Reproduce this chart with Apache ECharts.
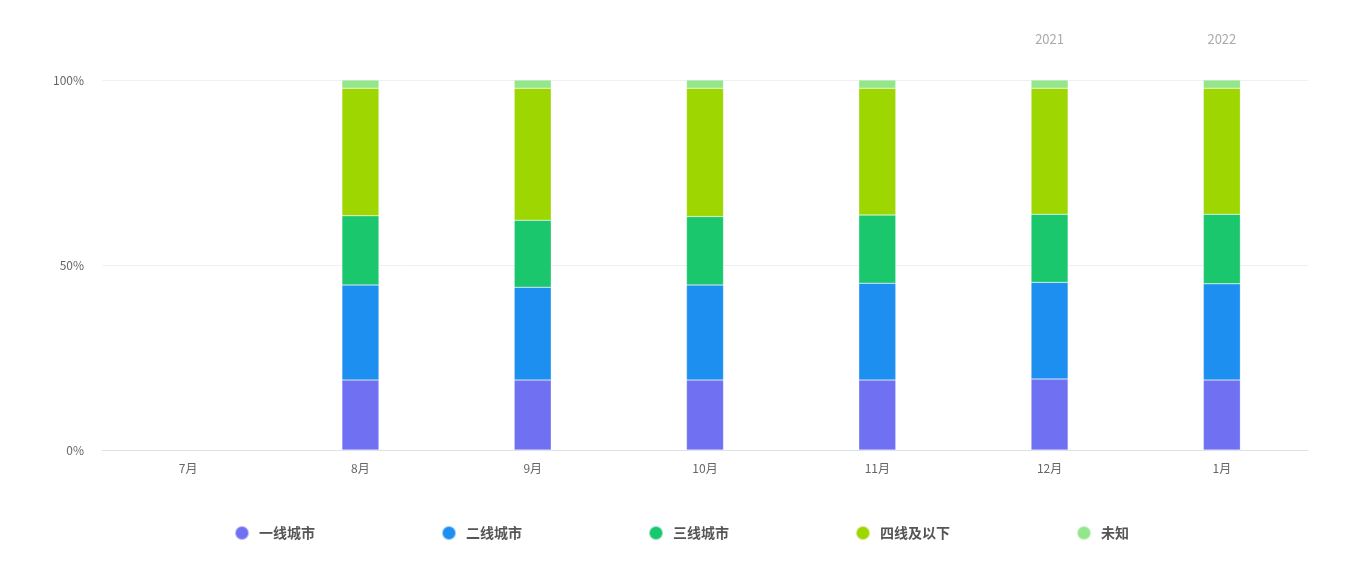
<!DOCTYPE html>
<html>
<head>
<meta charset="utf-8">
<title>城市分布</title>
<script src="https://cdn.jsdelivr.net/npm/echarts@6/dist/echarts.min.js"></script>
<style>
    html, body { margin: 0; padding: 0; background: #fff; }
    #barChart { width: 1363px; height: 588px; }
</style>
</head>
<body>
<div id="barChart"></div>
<script>
// 月份
var monthArray = ['7月', '8月', '9月', '10月', '11月', '12月', '1月'];
// 顶部年份标签
var yearArray = ['', '', '', '', '', '2021', '2022'];
// 各城市级别占比(%)，7月无数据
var tier1Array = ['-', 18.9, 18.9, 18.9, 18.9, 19.2, 18.9];
var tier2Array = ['-', 25.7, 25.1, 25.7, 26.2, 26.1, 26.0];
var tier3Array = ['-', 18.7, 18.1, 18.5, 18.4, 18.4, 18.8];
var tier4Array = ['-', 34.5, 35.7, 34.7, 34.3, 34.1, 34.1];
var unknownArray = ['-', 2.2, 2.2, 2.2, 2.2, 2.2, 2.2];

var seriesNames = ['一线城市', '二线城市', '三线城市', '四线及以下', '未知'];
var seriesColors = ['#6f71f2', '#1d8ff0', '#1bc76d', '#9dd600', '#94e68a'];
var seriesData = [tier1Array, tier2Array, tier3Array, tier4Array, unknownArray];

var fontName = '"Noto Sans CJK SC", "Noto Sans", sans-serif';

//初始化柱状图
function initBarChart() {
    var series = [];
    for (var i = 0; i < seriesNames.length; i++) {
        series.push({
            name: seriesNames[i],
            type: 'bar',
            stack: 'total',
            barWidth: 37,
            itemStyle: {
                color: seriesColors[i],
                borderColor: 'rgba(255,255,255,0.5)',
                borderWidth: 0.5
            },
            data: seriesData[i]
        });
    }
    var chartOption = {
        textStyle: { fontFamily: fontName },
        grid: {
            left: 102,
            right: 55,
            top: 80,
            bottom: 138
        },
        legend: {
            bottom: 42,
            left: 'center',
            icon: 'circle',
            itemWidth: 14,
            itemHeight: 14,
            itemGap: 126,
            textStyle: {
                color: '#555',
                fontSize: 14,
                fontWeight: 'bold',
                fontFamily: fontName,
                padding: [0, 0, 0, 5]
            },
            data: seriesNames
        },
        xAxis: [{
            type: 'category',
            data: monthArray,
            axisLine: { lineStyle: { color: '#dde1ea' } },
            axisTick: { show: false },
            axisLabel: { color: '#666', fontSize: 12, margin: 12 }
        }, {
            type: 'category',
            position: 'top',
            data: yearArray,
            axisLine: { show: false },
            axisTick: { show: false },
            axisLabel: { color: '#aaa', fontSize: 13, margin: 34 }
        }],
        yAxis: [{
            type: 'value',
            min: 0,
            max: 100,
            interval: 50,
            axisLine: { show: false },
            axisTick: { show: false },
            axisLabel: { color: '#666', fontSize: 12, margin: 18, formatter: '{value}%' },
            splitLine: { lineStyle: { color: '#eef0f4' } }
        }],
        series: series
    };
    var barChart = echarts.init(document.getElementById('barChart'));
    barChart.setOption(chartOption);
}

initBarChart();
</script>
</body>
</html>
